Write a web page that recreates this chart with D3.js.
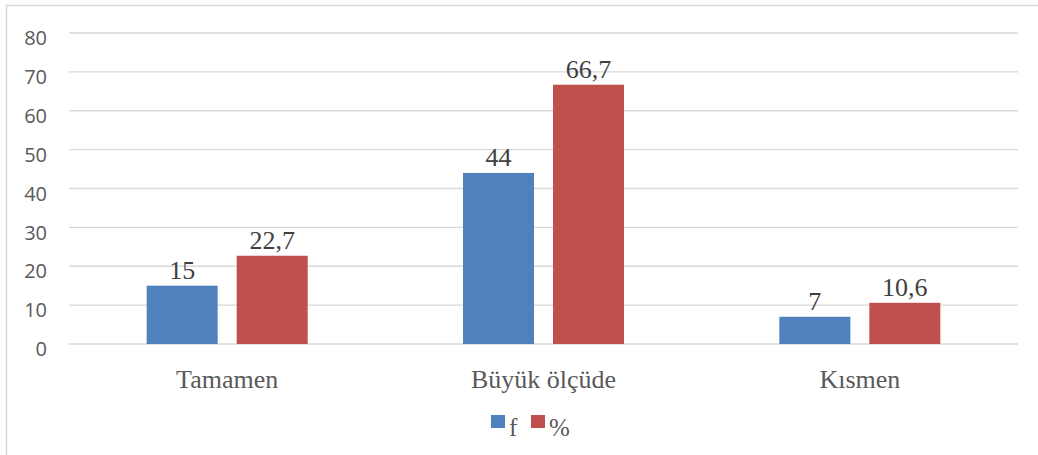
<!DOCTYPE html>
<html>
<head>
<meta charset="utf-8">
<script src="https://cdn.jsdelivr.net/npm/d3@7"></script>
<style>
  body { margin: 0; background: #fff; }
</style>
</head>
<body>
<div id="chart"></div>
<script>
// categories and series
let categories = ["Tamamen", "Büyük ölçüde", "Kısmen"]
let seriesNames = ["f", "%"]
let fValues = [15, 44, 7]
let pctValues = [22.7, 66.7, 10.6]
let pctLabels = ["22,7", "66,7", "10,6"]
let yTicks = [0, 10, 20, 30, 40, 50, 60, 70, 80]

let colors = { "f": "#4F81BD", "%": "#C0504D" }
let serif = "'Liberation Serif', 'Times New Roman', serif"

let W = 1038, H = 455
let svg = d3.select("#chart").append("svg")
    .attr("width", W)
    .attr("height", H)

// chart frame
svg.append("rect")
    .attr("x", 6.5).attr("y", 5.5)
    .attr("width", 1040).attr("height", 460)
    .attr("fill", "#fff")
    .attr("stroke", "#D9D9D9")
    .attr("stroke-width", 1.5)

let x0 = d3.scaleBand().domain(categories).range([69, 1018])
let y = d3.scaleLinear().domain([0, 80]).range([344, 33])

// gridlines
svg.selectAll(".grid")
    .data(yTicks)
    .join("line")
    .attr("x1", 69).attr("x2", 1018)
    .attr("y1", d => y(d)).attr("y2", d => y(d))
    .attr("stroke", "#D9D9D9")
    .attr("stroke-width", 1.3)

// y tick labels
svg.selectAll(".ytick")
    .data(yTicks)
    .join("text")
    .attr("x", 47)
    .attr("y", d => y(d) + 5)
    .attr("dy", "0.36em")
    .attr("text-anchor", "end")
    .attr("font-family", "'Open Sans', sans-serif")
    .attr("font-size", 20)
    .attr("fill", "#595959")
    .text(d => d)

// bars
let barW = 71, barGap = 19
let rows = categories.map((c, i) => [
    { cat: c, name: "f", value: fValues[i], label: String(fValues[i]) },
    { cat: c, name: "%", value: pctValues[i], label: pctLabels[i] }
]).flat()

let x1 = d3.scaleOrdinal().domain(seriesNames).range([0, barW + barGap])

function barX(d) {
    let center = x0(d.cat) + x0.bandwidth() / 2
    return center - (2 * barW + barGap) / 2 + x1(d.name)
}

svg.selectAll(".bar")
    .data(rows)
    .join("rect")
    .attr("x", d => barX(d))
    .attr("y", d => y(d.value))
    .attr("width", barW)
    .attr("height", d => y(0) - y(d.value))
    .attr("fill", d => colors[d.name])

// data labels
svg.selectAll(".dlabel")
    .data(rows)
    .join("text")
    .attr("x", d => barX(d) + barW / 2)
    .attr("y", d => y(d.value) - 7)
    .attr("text-anchor", "middle")
    .attr("font-family", serif)
    .attr("font-size", 26)
    .attr("fill", "#404040")
    .text(d => d.label)

// category labels
svg.selectAll(".xlabel")
    .data(categories)
    .join("text")
    .attr("x", d => x0(d) + x0.bandwidth() / 2)
    .attr("y", 388)
    .attr("text-anchor", "middle")
    .attr("font-family", serif)
    .attr("font-size", 26)
    .attr("fill", "#595959")
    .text(d => d)

// legend
let legend = svg.append("g")
let legendItems = [{ name: "f", x: 491 }, { name: "%", x: 531 }]
legend.selectAll("rect")
    .data(legendItems)
    .join("rect")
    .attr("x", d => d.x).attr("y", 415)
    .attr("width", 14).attr("height", 13)
    .attr("fill", d => colors[d.name])
legend.selectAll("text")
    .data(legendItems)
    .join("text")
    .attr("x", d => d.x + 18)
    .attr("y", 436)
    .attr("font-family", serif)
    .attr("font-size", 25)
    .attr("fill", "#595959")
    .text(d => d.name)
</script>
</body>
</html>
